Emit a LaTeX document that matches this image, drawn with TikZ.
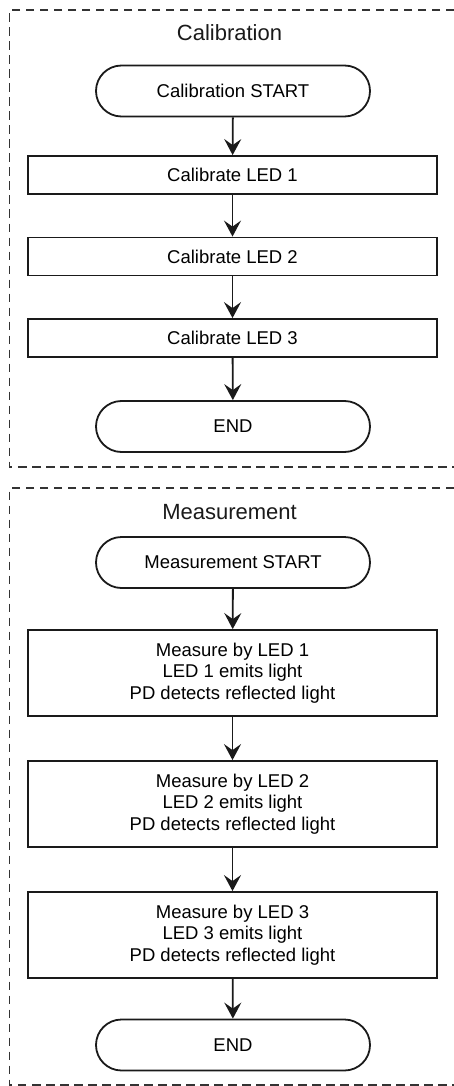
\documentclass[tikz,border=0pt]{standalone}
\usepackage{fontspec}
\setmainfont{Liberation Sans}
\usetikzlibrary{shapes.misc, arrows.meta}
\definecolor{FlowBlack}{HTML}{1A1A1A}
\definecolor{FrameGray}{HTML}{333333}
\tikzset{
    % flowchart boxes
    process box/.style={
        rectangle,
        draw=FlowBlack,
        fill=white,
        line width=1.8pt,
        minimum width=409pt,
        minimum height=38pt,
        inner sep=0pt,
        align=center,
        font=\fontsize{18.5}{21.7}\selectfont
    },
    process tall/.style={
        process box,
        minimum height=86pt
    },
    terminal/.style={
        rounded rectangle,
        draw=FlowBlack,
        fill=white,
        line width=1.8pt,
        minimum width=274pt,
        minimum height=51pt,
        inner sep=0pt,
        align=center,
        font=\fontsize{18.5}{21.7}\selectfont
    },
    group title/.style={
        anchor=base,
        inner sep=0pt,
        text=FlowBlack,
        font=\fontsize{22}{26}\selectfont
    },
    group frame/.style={
        draw=FrameGray,
        line width=1.8pt,
        dash pattern=on 8.5pt off 5.5pt
    },
    arrow style/.style={
        -{Stealth[length=16pt, width=17pt, inset=6pt]},
        line width=1.8pt,
        FlowBlack
    }
}

\begin{document}
\begin{tikzpicture}[x=1pt, y=-1pt]
        \useasboundingbox (0,0) rectangle (454,1086);

        % Calibration group
        \draw[group frame] (454,10) -- (9.5,10) -- (9.5,467) -- (454,467);
        \node[group title] (cal-title) at (229.5,41) {Calibration};

        \node[terminal] (cal-start) at (233,91) {Calibration START};
        \node[process box] (cal-led1) at (232.5,175) {Calibrate LED 1};
        \node[process box] (cal-led2) at (232.5,256.5) {Calibrate LED 2};
        \node[process box] (cal-led3) at (232.5,338) {Calibrate LED 3};
        \node[terminal] (cal-end) at (233,426.5) {END};

        \draw[arrow style] (cal-start) -- (cal-led1);
        \draw[arrow style] (cal-led1) -- (cal-led2);
        \draw[arrow style] (cal-led2) -- (cal-led3);
        \draw[arrow style] (cal-led3) -- (cal-end);

        % Measurement group
        \draw[group frame] (454,488) -- (9.5,488) -- (9.5,1085) -- (454,1085);
        \node[group title] (meas-title) at (229.5,519) {Measurement};

        \node[terminal] (meas-start) at (233,562.5) {Measurement START};
        \node[process tall] (meas-led1) at (232.5,673) {Measure by LED 1\\LED 1 emits light\\PD detects reflected light};
        \node[process tall] (meas-led2) at (232.5,804) {Measure by LED 2\\LED 2 emits light\\PD detects reflected light};
        \node[process tall] (meas-led3) at (232.5,935) {Measure by LED 3\\LED 3 emits light\\PD detects reflected light};
        \node[terminal] (meas-end) at (233,1045) {END};

        \draw[arrow style] (meas-start) -- (meas-led1);
        \draw[arrow style] (meas-led1) -- (meas-led2);
        \draw[arrow style] (meas-led2) -- (meas-led3);
        \draw[arrow style] (meas-led3) -- (meas-end);
    \end{tikzpicture}
\end{document}
